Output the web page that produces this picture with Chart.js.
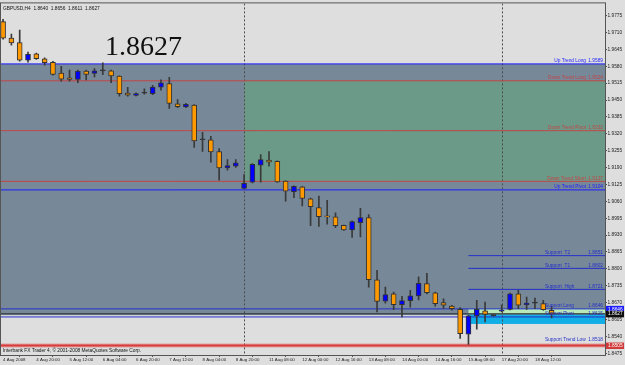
<!DOCTYPE html>
<html>
<head>
<meta charset="utf-8">
<script src="https://cdn.jsdelivr.net/npm/chart.js@4/dist/chart.umd.min.js"></script>
<style>
html,body{margin:0;padding:0;background:#dedede;}
canvas{display:block;}
</style>
</head>
<body>
<canvas id="c" width="625" height="365"></canvas>
<script>
// ---------- data ----------
const symbol = "GBPUSD,H4";
const opens  = [1.9752,1.9688,1.9671,1.9603,1.9628,1.9609,1.9595,1.9554,1.9535,1.9529,1.9561,1.9552,1.9562,1.9562,1.9542,1.9477,1.9468,1.9476,1.9474,1.9499,1.9513,1.9435,1.9423,1.9431,1.9297,1.9297,1.9252,1.9189,1.9195,1.9110,1.9134,1.9199,1.9219,1.9214,1.9138,1.9097,1.9116,1.9070,1.9036,1.9004,1.9000,1.8968,1.8950,1.8978,1.8997,1.8758,1.8676,1.8704,1.8662,1.8678,1.8696,1.8743,1.8708,1.8670,1.8657,1.8644,1.8549,1.8619,1.8639,1.8620,1.8637,1.8644,1.8704,1.8662,1.8668,1.8666,1.8640];
const highs  = [1.9761,1.9704,1.9719,1.9635,1.9631,1.9612,1.9599,1.9580,1.9565,1.9565,1.9565,1.9571,1.9593,1.9565,1.9543,1.9499,1.9478,1.9493,1.9507,1.9528,1.9537,1.9452,1.9437,1.9432,1.9326,1.9310,1.9263,1.9221,1.9221,1.9163,1.9205,1.9240,1.9252,1.9216,1.9139,1.9120,1.9118,1.9073,1.9080,1.9064,1.9016,1.8969,1.8985,1.9033,1.9009,1.8794,1.8730,1.8711,1.8694,1.8717,1.8769,1.8783,1.8711,1.8685,1.8660,1.8651,1.8621,1.8679,1.8672,1.8623,1.8662,1.8707,1.8717,1.8691,1.8688,1.8679,1.8656];
const lows   = [1.9684,1.9661,1.9600,1.9596,1.9606,1.9584,1.9546,1.9523,1.9523,1.9517,1.9527,1.9539,1.9548,1.9517,1.9465,1.9465,1.9466,1.9473,1.9471,1.9488,1.9418,1.9421,1.9421,1.9268,1.9252,1.9211,1.9141,1.9180,1.9191,1.9108,1.9131,1.9134,1.9195,1.9133,1.9061,1.9074,1.9042,1.8966,1.8963,1.8972,1.8959,1.8948,1.8921,1.8923,1.8730,1.8634,1.8668,1.8643,1.8615,1.8653,1.8681,1.8704,1.8656,1.8647,1.8641,1.8532,1.8509,1.8568,1.8596,1.8618,1.8634,1.8642,1.8647,1.8644,1.8647,1.8641,1.8611];
const closes = [1.9688,1.9670,1.9603,1.9626,1.9609,1.9594,1.9549,1.9530,1.9529,1.9561,1.9549,1.9562,1.9562,1.9543,1.9474,1.9469,1.9475,1.9476,1.9500,1.9516,1.9437,1.9424,1.9433,1.9293,1.9297,1.9250,1.9189,1.9198,1.9208,1.9129,1.9202,1.9221,1.9211,1.9135,1.9099,1.9118,1.9071,1.9039,1.9001,1.9000,1.8966,1.8950,1.8982,1.8997,1.8758,1.8675,1.8701,1.8662,1.8678,1.8696,1.8744,1.8708,1.8666,1.8660,1.8647,1.8551,1.8619,1.8644,1.8625,1.8620,1.8641,1.8704,1.8660,1.8668,1.8668,1.8643,1.8627];

const timeLabels = ["4 Aug 2008","4 Aug 20:00","5 Aug 12:00","6 Aug 04:00","6 Aug 20:00","7 Aug 12:00","8 Aug 04:00","8 Aug 20:00","11 Aug 08:00","12 Aug 00:00","12 Aug 16:00","13 Aug 08:00","14 Aug 00:00","14 Aug 16:00","15 Aug 08:00","17 Aug 20:00","18 Aug 12:00"];
const timeLabelBars = [0,4,8,12,16,20,24,28,32,36,40,44,48,52,56,60,64];
const weekSeparators = [29,60];

const priceTicks = [1.9775,1.9710,1.9645,1.9580,1.9515,1.9450,1.9385,1.9320,1.9255,1.9190,1.9125,1.9060,1.8995,1.8930,1.8865,1.8800,1.8735,1.8670,1.8605,1.8540,1.8475];

const levelNames  = ["Up Trend Long","Down Trend Long","Down Trend Pivot","Down Trend Short","Up Trend Pivot","Support  T2","Support  T1","Support  High","Support Long","Support Pivot","Support Trend Low"];
const levelValues = [1.9589,1.9524,1.9332,1.9137,1.9104,1.8851,1.8802,1.8721,1.8646,1.8615,1.8518];
const levelStartBars = [-1,-1,-1,-1,-1,56,56,56,-1,-1,null];

const zoneTops    = [1.9589,1.9524,1.8646,1.8624];
const zoneBottoms = [1.8622,1.9137,1.8628,1.8588];
const zoneStartBars = [-1,29,56,56];

const stopLevel = 1.8505;
const bigPriceText = "1.8627";

// ---------- styles ----------
const X_MIN = -0.25, X_MAX = 72.43, Y_MIN = 1.84685, Y_MAX = 1.9822;
const zoneColors = ["#778899","#6b9a89","#b9e8b9","#12aee6"];
const BULL = "#0000ff", BEAR = "#ff9900", DOJI = "#333333", EDGE = "#333333";
const SMALL = "Liberation Sans";
function levelColor(n){ return n.startsWith("Up") ? "#1c1cff" : (n.startsWith("Down") ? "#c24646" : "#2430c8"); }

const n = opens.length;
const lastBar = n - 1;
const bid = closes[lastBar];

const datasets = [];
// level lines
levelNames.forEach((name,i)=>{
  if (levelStartBars[i] === null) return;
  const sx = levelStartBars[i] < 0 ? X_MIN : levelStartBars[i];
  datasets.push({type:'line', data:[{x:sx,y:levelValues[i]},{x:X_MAX,y:levelValues[i]}],
    borderColor: levelColor(name), borderWidth:1, pointRadius:0, order:20});
});
datasets.push({type:'line', data:[{x:X_MIN,y:bid},{x:X_MAX,y:bid}], borderColor:'#2b2b2b', borderWidth:1, pointRadius:0, order:19});
datasets.push({type:'line', data:[{x:X_MIN,y:stopLevel},{x:X_MAX,y:stopLevel}], borderColor:'rgba(230,80,80,0.45)', borderWidth:4, pointRadius:0, order:18});
datasets.push({type:'line', data:[{x:X_MIN,y:stopLevel},{x:X_MAX,y:stopLevel}], borderColor:'#d83c3c', borderWidth:2, pointRadius:0, order:17});
// wicks
datasets.push({type:'bar', data: opens.map((o,i)=>({x:i, y:[lows[i], highs[i]]})),
  backgroundColor:'#3a3a3a', barThickness:1, grouped:false, order:2});
// bodies
datasets.push({type:'bar', data: opens.map((o,i)=>({x:i, y:[o, closes[i]]})),
  backgroundColor: opens.map((o,i)=> closes[i]>o ? BULL : (closes[i]<o ? BEAR : DOJI)),
  borderColor: EDGE, borderWidth:1, borderSkipped:false, barThickness:5, minBarLength:1, grouped:false, order:1});

const overlay = {
  id:'overlay',
  beforeDraw(chart){
    const ctx = chart.ctx;
    ctx.save(); ctx.fillStyle = '#dedede'; ctx.fillRect(0,0,chart.width,chart.height); ctx.restore();
  },
  beforeDatasetsDraw(chart){
    const {ctx, chartArea:a, scales:{x,y}} = chart;
    ctx.save();
    ctx.beginPath(); ctx.rect(a.left,a.top,a.right-a.left,a.bottom-a.top); ctx.clip();
    zoneTops.forEach((t,i)=>{
      const x0 = zoneStartBars[i] < 0 ? a.left : x.getPixelForValue(zoneStartBars[i]);
      const y0 = y.getPixelForValue(t), y1 = y.getPixelForValue(zoneBottoms[i]);
      ctx.fillStyle = zoneColors[i];
      ctx.fillRect(x0, y0, a.right - x0, y1 - y0);
    });
    ctx.strokeStyle = '#4a4a4a'; ctx.lineWidth = 1; ctx.setLineDash([2,2]);
    weekSeparators.forEach(b=>{
      const px = Math.round(x.getPixelForValue(b)) + 0.5;
      ctx.beginPath(); ctx.moveTo(px, a.top); ctx.lineTo(px, a.bottom); ctx.stroke();
    });
    ctx.restore();
  },
  afterDatasetsDraw(chart){
    const {ctx, chartArea:a, scales:{x,y}} = chart;
    ctx.save();
    // level labels
    ctx.font = `4.8px "${SMALL}"`;
    ctx.textBaseline = 'alphabetic';
    levelNames.forEach((name,i)=>{
      const py = y.getPixelForValue(levelValues[i]) - 1.5;
      ctx.fillStyle = levelColor(name);
      if (name.startsWith("Support")) {
        ctx.textAlign = 'left';
        ctx.fillText(name, a.right - 60, py);
      } else {
        ctx.textAlign = 'right';
        ctx.fillText(name, a.right - 19, py);
      }
      ctx.textAlign = 'right';
      ctx.fillText(levelValues[i].toFixed(4), a.right - 2, py);
    });
    // chart border
    ctx.strokeStyle = '#555'; ctx.lineWidth = 1;
    ctx.strokeRect(a.left - 0.5, a.top - 0.5, a.right - a.left + 1, a.bottom - a.top + 1);
    // title
    ctx.fillStyle = '#111'; ctx.textAlign = 'left'; ctx.textBaseline = 'middle';
    ctx.font = `4.8px "${SMALL}"`;
    ctx.fillText(`${symbol}  ${opens[lastBar].toFixed(4)}  ${highs[lastBar].toFixed(4)}  ${lows[lastBar].toFixed(4)}  ${closes[lastBar].toFixed(4)}`, a.left + 2, a.top + 5);
    ctx.fillText("Interbank FX Trader 4, \u00a9 2001-2008 MetaQuotes Software Corp.", a.left + 2, a.bottom - 4);
    // big price
    ctx.font = `28px "Liberation Serif"`; ctx.textBaseline = 'alphabetic'; ctx.fillStyle = '#111';
    ctx.fillText(bigPriceText, 105, 55);
    // axis boxes
    const boxes = [[levelValues[8], '#1c1cff'], [bid, '#0d0d0d'], [stopLevel, '#d03a3a']];
    ctx.font = `4.8px "${SMALL}"`; ctx.textBaseline = 'middle'; ctx.textAlign = 'left';
    boxes.forEach(([v,c])=>{
      const py = y.getPixelForValue(v);
      ctx.fillStyle = c; ctx.fillRect(a.right + 1, py - 3, 18, 6.5);
      ctx.fillStyle = '#fff'; ctx.fillText(v.toFixed(4), a.right + 3, py + 0.3);
    });
    ctx.restore();
  }
};

new Chart(document.getElementById('c'), {
  type:'bar',
  data:{datasets},
  options:{
    responsive:false, animation:false, devicePixelRatio:1,
    layout:{padding:{left:1, top:1, right:0, bottom:0}},
    plugins:{legend:{display:false}, tooltip:{enabled:false}},
    scales:{
      x:{type:'linear', min:X_MIN, max:X_MAX, offset:false,
        afterBuildTicks:s=>{ s.ticks = timeLabelBars.map(v=>({value:v})); },
        afterFit:s=>{ s.height = 10; },
        ticks:{autoSkip:false, maxRotation:0, align:'start', padding:0, color:'#222',
          font:{family:SMALL, size:4.4}, callback:(v,i)=>timeLabels[i]},
        grid:{drawOnChartArea:false, drawTicks:true, tickLength:2, color:'#555'},
        border:{display:true, color:'#555'}},
      y:{type:'linear', position:'right', min:Y_MIN, max:Y_MAX,
        afterBuildTicks:s=>{ s.ticks = priceTicks.map(v=>({value:v})); },
        afterFit:s=>{ s.width = 20; },
        ticks:{padding:0.5, color:'#222', font:{family:SMALL, size:4.8}, callback:v=>v.toFixed(4)},
        grid:{drawOnChartArea:false, drawTicks:true, tickLength:2, color:'#555'},
        border:{display:true, color:'#555'}}
    }
  },
  plugins:[overlay]
});
</script>
</body>
</html>
